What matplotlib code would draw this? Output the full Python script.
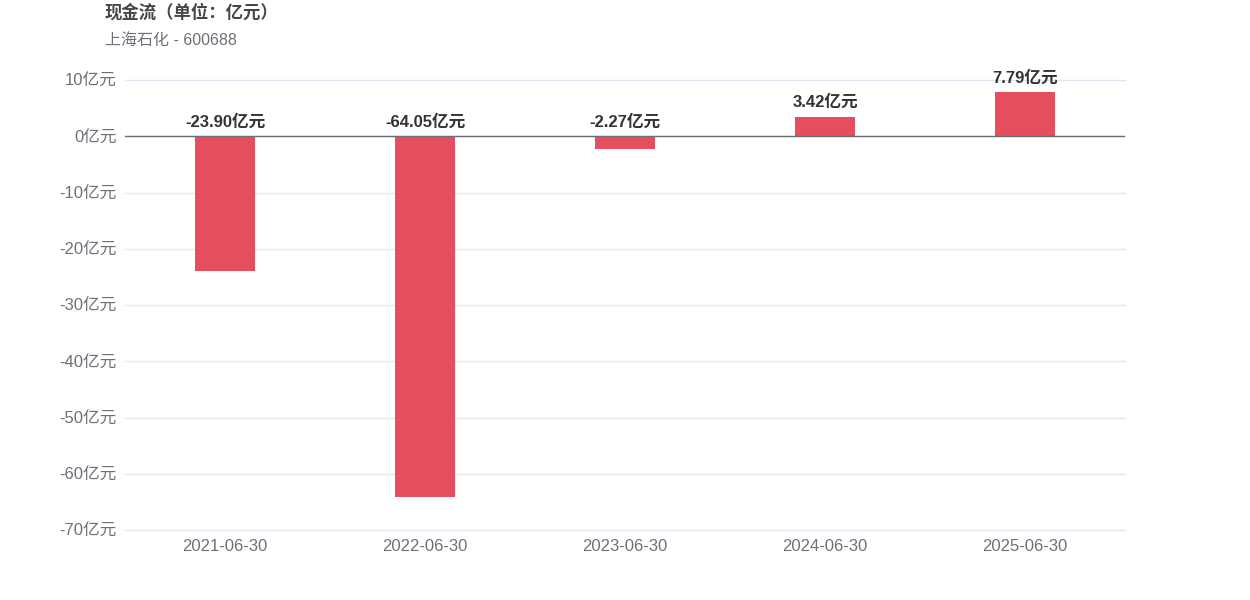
import matplotlib
matplotlib.use("Agg")
import matplotlib.pyplot as plt

plt.rcParams['font.family'] = ['Liberation Sans', 'Noto Sans CJK SC', 'DejaVu Sans']

categories = ['2021-06-30', '2022-06-30', '2023-06-30', '2024-06-30', '2025-06-30']
values = [-23.90, -64.05, -2.27, 3.42, 7.79]
yticks = [10, 0, -10, -20, -30, -40, -50, -60, -70]
title = '现金流（单位：亿元）'
subtitle = '上海石化 - 600688'

fig = plt.figure(figsize=(12.5, 6), dpi=100)
ax = fig.add_axes([0.1, 1 - 530 / 600, 0.8, 450 / 600])

x = range(len(categories))
ax.bar(x, values, width=0.3, color='#e64d5f', zorder=3)
for xi, v in zip(x, values):
    ax.annotate(f'{v:.2f}亿元', xy=(xi, max(v, 0)), xytext=(0, 5), textcoords='offset points',
                ha='center', va='bottom', fontsize=12, fontweight='bold', color='#333333', zorder=5)

ax.set_xlim(-0.5, len(categories) - 0.5)
ax.set_ylim(-70, 10)
ax.set_yticks(yticks)
ax.set_yticklabels([f'{t}亿元' for t in yticks])
ax.set_xticks(list(x))
ax.set_xticklabels(categories)
ax.tick_params(axis='both', length=0, labelsize=12, colors='#6e7079')
ax.tick_params(axis='y', pad=6)
ax.tick_params(axis='x', pad=6.5)
ax.grid(axis='y', color='#e0e6f1', linewidth=1, zorder=0)
for gl in ax.get_ygridlines():
    gl.set_clip_on(False)
for s in ax.spines.values():
    s.set_visible(False)
ax.axhline(0, color='#6e7079', linewidth=1, zorder=4)

fig.text(105 / 1250, 1 - 13 / 600, title, fontsize=12.5, fontweight='bold', color='#464646',
         va='center', ha='left', family=['Noto Sans CJK SC', 'DejaVu Sans'])
fig.text(105 / 1250, 1 - 40 / 600, subtitle, fontsize=11.5, color='#6e7079', va='center', ha='left')

fig.savefig('out.png', dpi=100)
